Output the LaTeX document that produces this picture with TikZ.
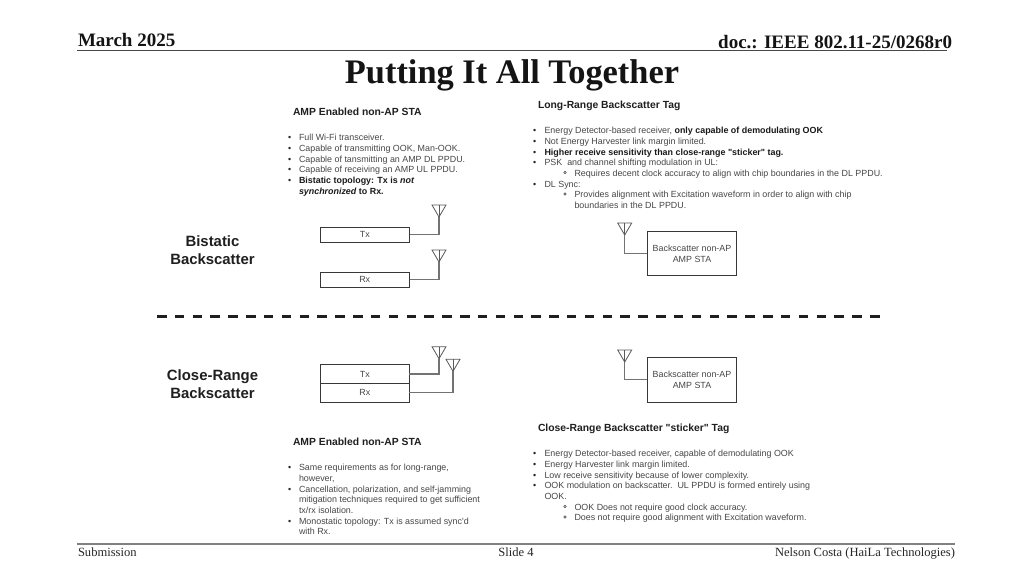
\documentclass[tikz,border=0pt]{standalone}
\usepackage{fontspec}
\setmainfont{Liberation Serif}
\newfontfamily\sfam{Liberation Sans}
\tikzset{
  every node/.style={inner sep=0pt,outer sep=0pt},
  hdr/.style={font=\rmfamily\bfseries\fontsize{19}{21}\selectfont,text=black!92,anchor=base},
  ftr/.style={font=\rmfamily\fontsize{12.55}{14}\selectfont,text=black!85,anchor=base},
  ttl/.style={font=\rmfamily\bfseries\fontsize{34.4}{40}\selectfont,text=black!92,anchor=base},
  head/.style={font=\sfam\bfseries\fontsize{10.35}{12}\selectfont,text=black!88,anchor=base west},
  side/.style={font=\sfam\bfseries\fontsize{14.9}{18}\selectfont,text=black!88,align=center},
  body/.style={font=\sfam\fontsize{8.9}{11}\selectfont,text=black!72,anchor=base west},
  strong/.style={body,text=black!90,font=\sfam\bfseries\fontsize{8.9}{11}\selectfont},
  bul/.style={font=\sfam\fontsize{8.9}{11}\selectfont,text=black!85,anchor=base west},
  hol/.style={circle,draw=black!75,line width=.55pt,minimum size=2.4pt},
  boxn/.style={draw=black!78,line width=.8pt,fill=white,font=\sfam\fontsize{8.9}{11}\selectfont,text=black!72,align=center,anchor=north west},
  wire/.style={draw=black!55,line width=1.1pt},
  aerial/.style={draw=black!65,line width=.8pt},
  divider/.style={draw=black!88,line width=2.7pt,dash pattern=on 9.5pt off 8.325pt},
  rulet/.style={draw=black!72,line width=1.1pt},
  ruleb/.style={draw=black!50,line width=1.5pt}
}
\newcommand{\antenna}[3]{% name, x of mast, y of top
  \coordinate (#1) at (#2,#3+12);
  \draw[aerial] (#2-7,#3) -- (#2+7,#3) -- (#1) -- cycle;
  \draw[aerial] (#2,#3) -- (#1);
}
\begin{document}
\begin{tikzpicture}[x=1pt,y=-1pt]
\useasboundingbox (0,0) rectangle (1024,576);
\fill[white] (0,0) rectangle (1024,576);
% header
\coordinate (hl) at (77,50.7); \coordinate (hr) at (947,50.7);
\draw[rulet] (hl) -- (hr);
\node[hdr,anchor=base west] (date) at (78,46.5) {March 2025};
\node[hdr,anchor=base east] (doc) at (952,48.3) {doc.: IEEE 802.11-25/0268r0};
\node[ttl] (title) at (512,83.3) {Putting It All Together};
% top left list
\node[head] (h1) at (293,115) {AMP Enabled non-AP STA};
\foreach \n/\y/\t in {a/140.5/{Full Wi-Fi transceiver.},b/151/{Capable of transmitting OOK, Man-OOK.},c/162/{Capable of tansmitting an AMP DL PPDU.},d/172.5/{Capable of receiving an AMP UL PPDU.}}{
  \node[bul] (ab\n) at (288,\y) {•};
  \node[body] (a\n) at (299,\y) {\t};
}
\node[bul] (abe) at (288,183) {•};
\node[strong] (ae) at (299,183) {Bistatic topology: Tx is \textit{not}};
\node[strong] (af) at (299,194) {\textit{synchronized} to Rx.};
% bistatic
\node[side] (bi) at (212.5,250.5) {Bistatic\\Backscatter};
\node[boxn,minimum width=89.5pt,minimum height=15.5pt] (tx1) at (320,227) {Tx};
\node[boxn,minimum width=89.5pt,minimum height=15.5pt] (rx1) at (320,272) {Rx};
\antenna{an1}{439}{205}
\antenna{an2}{439}{250}
\draw[wire] (tx1.east) -| (an1);
\draw[wire] (rx1.east) -| (an2);
% top right list
\node[head] (h2) at (538,108) {Long-Range Backscatter Tag};
\node[bul] (bb1) at (533,133.5) {•};
\node[body] (b1) at (544.5,133.5) {Energy Detector-based receiver, \textcolor{black!90}{\bfseries only capable of demodulating OOK}};
\node[bul] (bb2) at (533,144) {•};
\node[body] (b2) at (544.5,144) {Not Energy Harvester link margin limited.};
\node[bul] (bb3) at (533,155) {•};
\node[strong] (b3) at (544.5,155) {Higher receive sensitivity than close-range "sticker" tag.};
\node[bul] (bb4) at (533,165.5) {•};
\node[body] (b4) at (544.5,165.5) {PSK\ \ and channel shifting modulation in UL:};
\node[hol] (bh1) at (565,172.5) {};
\node[body] (b5) at (574.5,176) {Requires decent clock accuracy to align with chip boundaries in the DL PPDU.};
\node[bul] (bb6) at (533,187) {•};
\node[body] (b6) at (544.5,187) {DL Sync:};
\node[hol] (bh2) at (565,194) {};
\node[body] (b7) at (574.5,197.5) {Provides alignment with Excitation waveform in order to align with chip};
\node[body] (b8) at (574.5,208.5) {boundaries in the DL PPDU.};
\node[boxn,minimum width=89.4pt,minimum height=44.7pt] (tag1) at (647.3,231) {Backscatter non-AP\\AMP STA};
\antenna{an3}{624.7}{223}
\draw[wire] (an3) |- (tag1.west);
% divider
\coordinate (dl) at (157,316.3); \coordinate (dr) at (879.5,316.3);
\draw[divider] (dl) -- (dr);
% close range
\node[side] (cl) at (212.5,384.5) {Close-Range\\Backscatter};
\node[boxn,minimum width=89pt,minimum height=18.6pt] (tx2) at (320.3,364.7) {Tx};
\node[boxn,minimum width=89pt,minimum height=18.7pt] (rx2) at (320.3,383.3) {Rx};
\antenna{an4}{439}{346.7}
\antenna{an5}{453}{359.3}
\draw[wire] (tx2.east) -| (an4);
\draw[wire] (rx2.east) -| (an5);
\node[boxn,minimum width=89.4pt,minimum height=45pt] (tag2) at (647.3,357.3) {Backscatter non-AP\\AMP STA};
\antenna{an6}{624.7}{350}
\draw[wire] (an6) |- (tag2.west);
% bottom left list
\node[head] (h3) at (293,445) {AMP Enabled non-AP STA};
\node[bul] (cb1) at (288,470.5) {•};
\node[body] (c1) at (299,470.5) {Same requirements as for long-range,};
\node[body] (c2) at (299,481) {however,};
\node[bul] (cb3) at (288,492) {•};
\node[body] (c3) at (299,492) {Cancellation, polarization, and self-jamming};
\node[body] (c4) at (299,502.5) {mitigation techniques required to get sufficient};
\node[body] (c5) at (299,513) {tx/rx isolation.};
\node[bul] (cb6) at (288,524) {•};
\node[body] (c6) at (299,524) {Monostatic topology: Tx is assumed sync'd};
\node[body] (c7) at (299,534.5) {with Rx.};
% bottom right list
\node[head] (h4) at (538,431) {Close-Range Backscatter "sticker" Tag};
\node[bul] (db1) at (533,456.5) {•};
\node[body] (d1) at (544.5,456.5) {Energy Detector-based receiver, capable of demodulating OOK};
\node[bul] (db2) at (533,467) {•};
\node[body] (d2) at (544.5,467) {Energy Harvester link margin limited.};
\node[bul] (db3) at (533,478) {•};
\node[body] (d3) at (544.5,478) {Low receive sensitivity because of lower complexity.};
\node[bul] (db4) at (533,488.5) {•};
\node[body] (d4) at (544.5,488.5) {OOK modulation on backscatter.\ \ UL PPDU is formed entirely using};
\node[body] (d5) at (544.5,499) {OOK.};
\node[hol] (dh1) at (565,506.5) {};
\node[body] (d6) at (574.5,510) {OOK Does not require good clock accuracy.};
\node[hol] (dh2) at (565,517) {};
\node[body] (d7) at (574.5,520.5) {Does not require good alignment with Excitation waveform.};
% footer
\coordinate (fl) at (77,544); \coordinate (fr) at (955,544);
\draw[ruleb] (fl) -- (fr);
\node[ftr,anchor=base west] (sub) at (78,556.3) {Submission};
\node[ftr] (slide) at (516,556.3) {Slide 4};
\node[ftr,anchor=base east] (auth) at (955,556.3) {Nelson Costa (HaiLa Technologies)};
\end{tikzpicture}
\end{document}
